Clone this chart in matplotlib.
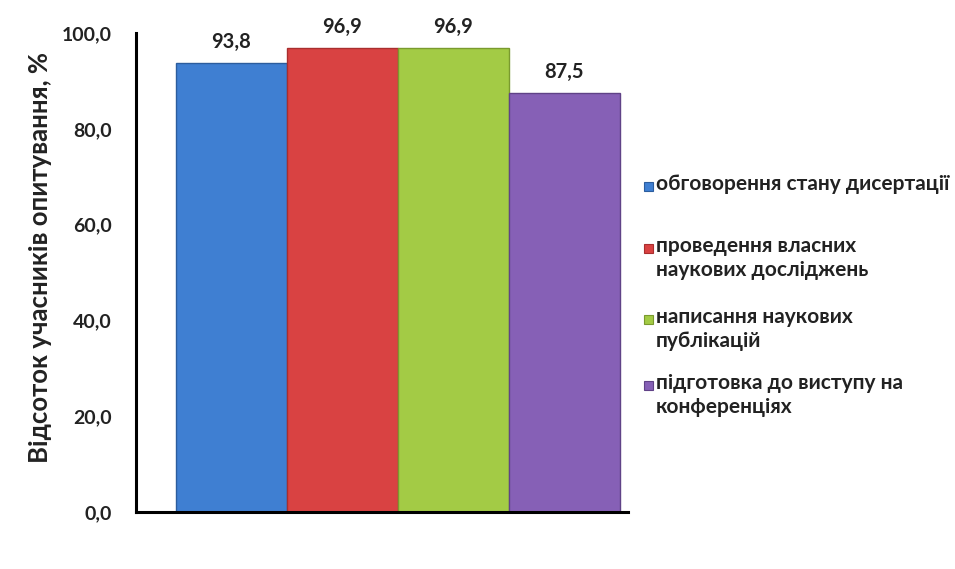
import matplotlib

matplotlib.use("Agg")
import matplotlib.pyplot as plt
from matplotlib.patches import Rectangle
from matplotlib.ticker import FuncFormatter

plt.rcParams["font.family"] = ["Lato", "DejaVu Sans"]

# data
categories = [
    "обговорення стану дисертації",
    "проведення власних\nнаукових досліджень",
    "написання наукових\nпублікацій",
    "підготовка до виступу на\nконференціях",
]
values = [93.8, 96.9, 96.9, 87.5]
colors = ["#3f7fd2", "#d94242", "#a3cb45", "#8660b6"]
edge_colors = ["#2c5d9e", "#a92e2e", "#7a9a2e", "#604287"]
y_ticks = [0, 20, 40, 60, 80, 100]
y_label = "Відсоток учасників опитування, %"


def comma(v, _pos=None):
    return f"{v:.1f}".replace(".", ",")


fig = plt.figure(figsize=(9.55, 5.69), dpi=100)
ax = fig.add_axes([0.142, 0.100, 0.516, 0.842])

x = list(range(len(values)))
ax.bar(x, values, width=1.0, color=colors, edgecolor=edge_colors, linewidth=1.0)
for xi, v in zip(x, values):
    ax.annotate(comma(v), (xi, v), xytext=(0, 8), textcoords="offset points",
                ha="center", va="bottom", fontsize=14.5, fontweight="bold", color="#222222")

ax.set_xlim(-0.86, 3.58)
ax.set_ylim(0, 100)
ax.set_yticks(y_ticks)
ax.yaxis.set_major_formatter(FuncFormatter(comma))
ax.set_xticks([])
ax.tick_params(axis="y", length=0, pad=17, labelsize=14)
for lab in ax.get_yticklabels():
    lab.set_fontweight("bold")
    lab.set_color("#222222")
for s in ("top", "right"):
    ax.spines[s].set_visible(False)
for s in ("left", "bottom"):
    ax.spines[s].set_linewidth(2.2)
    ax.spines[s].set_color("black")

fig.text(0.042, 0.548, y_label, rotation=90, ha="center", va="center",
         fontsize=18.5, fontweight="bold", color="#222222")

# legend, drawn by hand so the marker sits on the first line
leg_y = [186, 248, 319, 385]
for lab, c, ec, yp in zip(categories, colors, edge_colors, leg_y):
    fy = 1 - yp / 569
    fig.patches.append(Rectangle((644 / 955, fy - 4.5 / 569), 9 / 955, 9 / 569,
                                 transform=fig.transFigure, facecolor=c,
                                 edgecolor=ec, linewidth=0.8))
    fig.text(656 / 955, fy + 12 / 569, lab, ha="left", va="top", fontsize=15,
             fontweight="bold", color="#222222", linespacing=1.22)

fig.savefig("out.png", dpi=100, facecolor="white")
